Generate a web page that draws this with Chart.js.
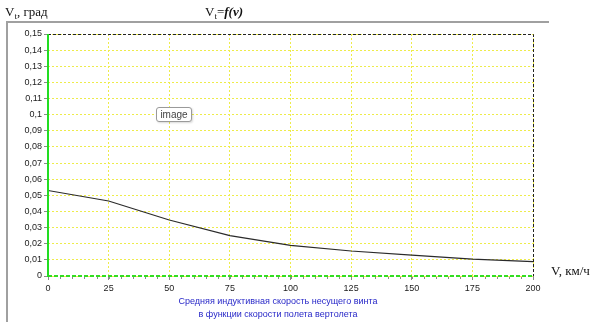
<!DOCTYPE html>
<html>
<head>
<meta charset="utf-8">
<script src="https://cdn.jsdelivr.net/npm/chart.js@4"></script>
<style>
  html, body { margin: 0; padding: 0; background: #fff; }
  #wrap { position: relative; width: 598px; height: 322px; overflow: hidden; }
  #frame { position: absolute; left: 6px; top: 21px; width: 543px; height: 310px;
    border-top: 2px solid #a0a0a0; border-left: 2px solid #a0a0a0; box-sizing: border-box; }
  canvas { position: absolute; left: 0; top: 0; }
  .serif { position: absolute; font-family: "Liberation Serif", serif; font-size: 13px; color: #111; white-space: nowrap; }
  .serif sub { font-size: 9px; vertical-align: -3px; }
  #caption { position: absolute; left: 178px; width: 200px; top: 295px; text-align: center;
    font-family: "Liberation Sans", sans-serif; font-size: 9px; line-height: 13px; color: #2828c8; white-space: nowrap; }
  #imgTag { position: absolute; left: 156px; top: 107px; width: 36px; height: 15px; box-sizing: border-box;
    border: 1px solid #9a9a9a; border-radius: 3px; background: #fff; box-shadow: 1px 1px 2px rgba(0,0,0,0.15);
    font-family: "Liberation Sans", sans-serif; font-size: 10px; line-height: 13px; text-align: center; color: #444; }
</style>
</head>
<body>
<div id="wrap">
  <div id="frame"></div>
  <canvas id="myChart" width="598" height="322"></canvas>
  <div class="serif" style="left:5px; top:4px;">V<sub>t</sub>, град</div>
  <div class="serif" style="left:205px; top:4px;">V<sub>t</sub>=<b><i>f(v)</i></b></div>
  <div class="serif" style="left:551px; top:263px;">V, км/ч</div>
  <div id="caption">Средняя индуктивная скорость несущего винта<br>в функции скорости полета вертолета</div>
  <div id="imgTag">image</div>
</div>
<script>
// flight speed, km/h
const speeds = [0, 25, 50, 75, 100, 125, 150, 175, 200];
// mean induced velocity of the main rotor
const inducedVel = [0.053, 0.0465, 0.0347, 0.025, 0.019, 0.0155, 0.013, 0.0105, 0.0089];

const xMin = 0, xMax = 200, xStep = 25, xMinorStep = 5;
const yMin = 0, yMax = 0.15, yStep = 0.01;

const commaNum = (v) => String(+Number(v).toFixed(2)).replace(".", ",");

// axis lines and plot border drawn on top of the grid
const framePlugin = {
  id: "framePlugin",
  afterDraw(chart) {
    const { ctx, chartArea: a, scales } = chart;
    ctx.save();
    // top and right: black dashed
    ctx.strokeStyle = "#222";
    ctx.lineWidth = 1;
    ctx.setLineDash([3, 2]);
    ctx.beginPath();
    ctx.moveTo(a.left, a.top + 0.5);
    ctx.lineTo(a.right + 0.5, a.top + 0.5);
    ctx.lineTo(a.right + 0.5, a.bottom);
    ctx.stroke();
    // bottom: green dashed
    ctx.strokeStyle = "#33dd22";
    ctx.lineWidth = 2;
    ctx.setLineDash([4, 2]);
    ctx.beginPath();
    ctx.moveTo(a.left, a.bottom);
    ctx.lineTo(a.right, a.bottom);
    ctx.stroke();
    // minor ticks on x
    ctx.setLineDash([]);
    ctx.strokeStyle = "#8a8a8a";
    ctx.lineWidth = 1;
    ctx.beginPath();
    for (let v = xMin; v <= xMax; v += xMinorStep) {
      const px = Math.round(scales.x.getPixelForValue(v)) + 0.5;
      ctx.moveTo(px, a.bottom + 1);
      ctx.lineTo(px, a.bottom + 3);
    }
    ctx.stroke();
    // left: green solid
    ctx.strokeStyle = "#22dd22";
    ctx.lineWidth = 2;
    ctx.beginPath();
    ctx.moveTo(a.left, a.top);
    ctx.lineTo(a.left, a.bottom + 1);
    ctx.stroke();
    ctx.restore();
  },
};

const gridStyle = { color: "#eeec4a", lineWidth: 1, tickLength: 4, tickColor: "#8a8a8a" };
const tickFont = { family: "Liberation Sans", size: 9 };

const chartConfig = {
  type: "line",
  data: {
    datasets: [
      {
        data: speeds.map((s, i) => ({ x: s, y: inducedVel[i] })),
        borderColor: "#2a2a2a",
        borderWidth: 1.2,
        pointRadius: 0,
        tension: 0,
      },
    ],
  },
  options: {
    responsive: false,
    animation: false,
    layout: { padding: { left: 0, top: 34, right: 65, bottom: 0 } },
    plugins: { legend: { display: false }, tooltip: { enabled: false } },
    scales: {
      x: {
        type: "linear",
        min: xMin,
        max: xMax,
        afterFit: (scale) => { scale.height = 46; },
        ticks: {
          stepSize: xStep,
          padding: 3,
          color: "#222",
          font: tickFont,
          callback: (v) => commaNum(v),
          maxRotation: 0,
        },
        grid: gridStyle,
        border: { display: false, dash: [2, 2] },
      },
      y: {
        min: yMin,
        max: yMax,
        afterFit: (scale) => { scale.width = 48; },
        ticks: {
          stepSize: yStep,
          padding: 2,
          color: "#222",
          font: tickFont,
          callback: (v) => commaNum(v),
        },
        grid: gridStyle,
        border: { display: false, dash: [2, 2] },
      },
    },
  },
  plugins: [framePlugin],
};

// eslint-disable-next-line
const myChart = new Chart(document.getElementById("myChart"), chartConfig);
</script>
</body>
</html>
